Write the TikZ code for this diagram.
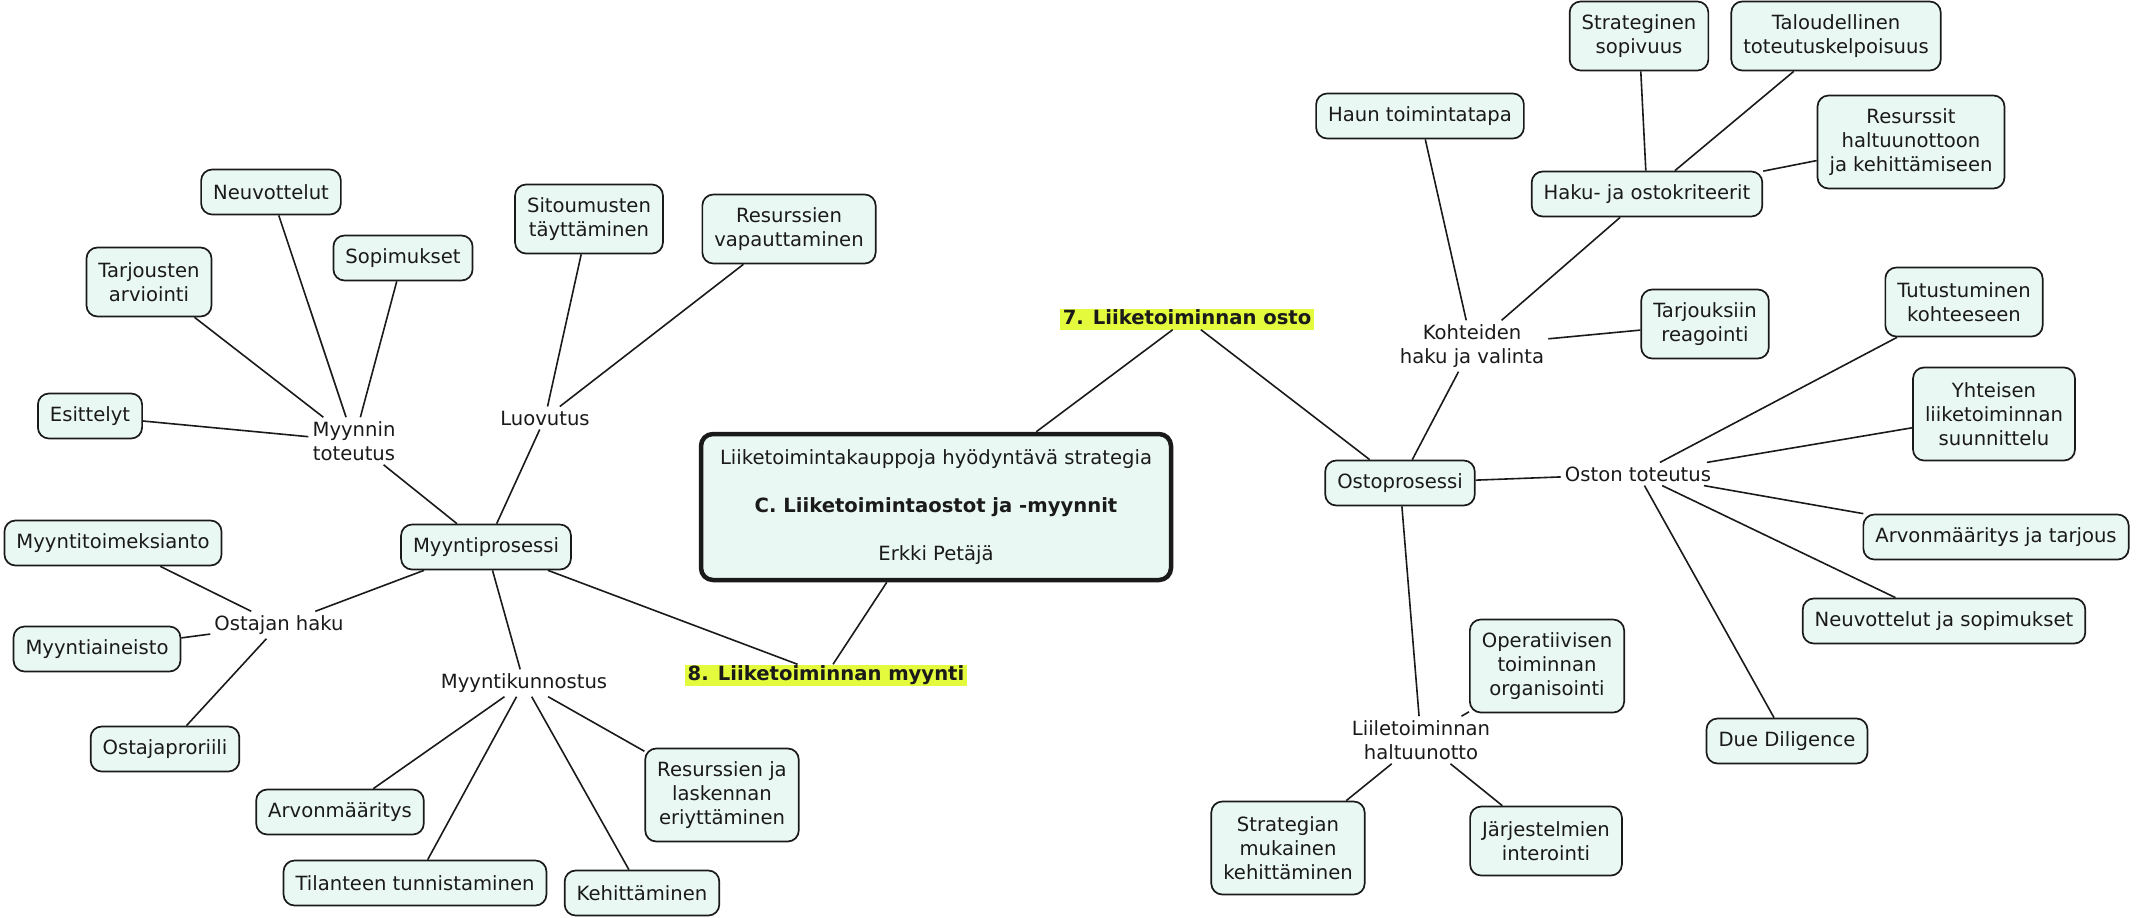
\documentclass[tikz,border=0pt]{standalone}
\usepackage{fontspec}
\setmainfont{DejaVu Sans}
\usepackage{xcolor}
\definecolor{boxfill}{HTML}{EAF8F3}
\definecolor{hiyellow}{HTML}{E3FA3D}
\definecolor{ink}{HTML}{1A1A1A}

\begin{document}
\begin{tikzpicture}[
  x=1pt, y=-1pt,
  every node/.style={font=\fontsize{19.6}{24}\selectfont, text=ink},
  box/.style={rectangle, draw=ink, line width=1.7pt, rounded corners=11pt, fill=boxfill, align=center, inner xsep=12pt, inner ysep=4pt, minimum height=45pt},
  two/.style={minimum height=69pt},
  three/.style={minimum height=93pt},
  link/.style={align=center, inner sep=4pt},
  hub/.style={rectangle, draw=ink, line width=4.5pt, rounded corners=12pt, fill=boxfill, align=center, minimum width=470pt, minimum height=146pt},
  stage/.style={fill=hiyellow, font=\fontsize{19.6}{24}\selectfont\bfseries, inner xsep=3pt, inner ysep=1.5pt, text height=14pt, text depth=4pt},
  conn/.style={draw=ink, line width=1.6pt}
]
  \useasboundingbox (0,0) rectangle (2137,918);

  \node[hub] (hub) at (936,507) {Liiketoimintakauppoja hyödyntävä strategia\\[24pt]\textbf{C. Liiketoimintaostot ja -myynnit}\\[24pt]Erkki Petäjä};
  \node[stage] (osto) at (1187,319) {7. Liiketoiminnan osto};
  \node[stage] (myynti) at (826,675) {8. Liiketoiminnan myynti};

  \node[box] (myyntiproc) at (486,547) {Myyntiprosessi};
  \node[link] (myyntot) at (354,441) {Myynnin\\toteutus};
  \node[box] (neuv) at (271,192) {Neuvottelut};
  \node[box] (sopim) at (403,258) {Sopimukset};
  \node[box, two] (tarj) at (149,282) {Tarjousten\\arviointi};
  \node[box] (esit) at (90,416) {Esittelyt};
  \node[link] (luov) at (545,418) {Luovutus};
  \node[box, two] (sitoum) at (589,219) {Sitoumusten\\täyttäminen};
  \node[box, two] (resvap) at (789,229) {Resurssien\\vapauttaminen};
  \node[link] (ostajahaku) at (279,625) {Ostajan haku};
  \node[box] (toimeks) at (113,543) {Myyntitoimeksianto};
  \node[box] (aineisto) at (97,649) {Myyntiaineisto};
  \node[box] (profiili) at (165,749) {Ostajaproriili};
  \node[link] (kunnostus) at (524,683) {Myyntikunnostus};
  \node[box] (arvo) at (340,812) {Arvonmääritys};
  \node[box] (tilanne) at (415,883) {Tilanteen tunnistaminen};
  \node[box] (kehit) at (642,893) {Kehittäminen};
  \node[box, three] (reseri) at (722,795) {Resurssien ja\\laskennan\\eriyttäminen};

  \node[box] (ostoproc) at (1400,483) {Ostoprosessi};
  \node[link] (kohteet) at (1472,346) {Kohteiden\\haku ja valinta};
  \node[box] (hauntapa) at (1420,116) {Haun toimintatapa};
  \node[box] (kriteerit) at (1647,194) {Haku- ja ostokriteerit};
  \node[box, two] (strateg) at (1639,36) {Strateginen\\sopivuus};
  \node[box, two] (talous) at (1836,36) {Taloudellinen\\toteutuskelpoisuus};
  \node[box, three] (resurssit) at (1911,142) {Resurssit\\haltuunottoon\\ja kehittämiseen};
  \node[box, two] (tarjreag) at (1705,324) {Tarjouksiin\\reagointi};
  \node[link] (ostontot) at (1638,474) {Oston toteutus};
  \node[box, two] (tutust) at (1964,302) {Tutustuminen\\kohteeseen};
  \node[box, three] (yhteinen) at (1994,414) {Yhteisen\\liiketoiminnan\\suunnittelu};
  \node[box] (arvotarj) at (1996,537) {Arvonmääritys ja tarjous};
  \node[box] (neuvsop) at (1944,621) {Neuvottelut ja sopimukset};
  \node[box] (dd) at (1787,741) {Due Diligence};
  \node[link] (haltuun) at (1421,740) {Liiletoiminnan\\haltuunotto};
  \node[box, three] (operat) at (1547,666) {Operatiivisen\\toiminnan\\organisointi};
  \node[box, three] (strkeh) at (1288,848) {Strategian\\mukainen\\kehittäminen};
  \node[box, two] (jarj) at (1546,841) {Järjestelmien\\interointi};

  \foreach \a/\b in {osto/hub, hub/myynti, myyntiproc/myynti, osto/ostoproc,
      neuv/myyntot, sopim/myyntot, tarj/myyntot, esit/myyntot, myyntot/myyntiproc,
      sitoum/luov, resvap/luov, luov/myyntiproc,
      toimeks/ostajahaku, aineisto/ostajahaku, profiili/ostajahaku, ostajahaku/myyntiproc,
      myyntiproc/kunnostus, kunnostus/arvo, kunnostus/tilanne, kunnostus/kehit, kunnostus/reseri,
      ostoproc/kohteet, hauntapa/kohteet, kriteerit/kohteet, tarjreag/kohteet,
      strateg/kriteerit, talous/kriteerit, resurssit/kriteerit,
      ostoproc/ostontot, ostontot/tutust, ostontot/yhteinen, ostontot/arvotarj, ostontot/neuvsop, ostontot/dd,
      ostoproc/haltuun, haltuun/operat, haltuun/strkeh, haltuun/jarj}
    \draw[conn] (\a) -- (\b);
\end{tikzpicture}
\end{document}
